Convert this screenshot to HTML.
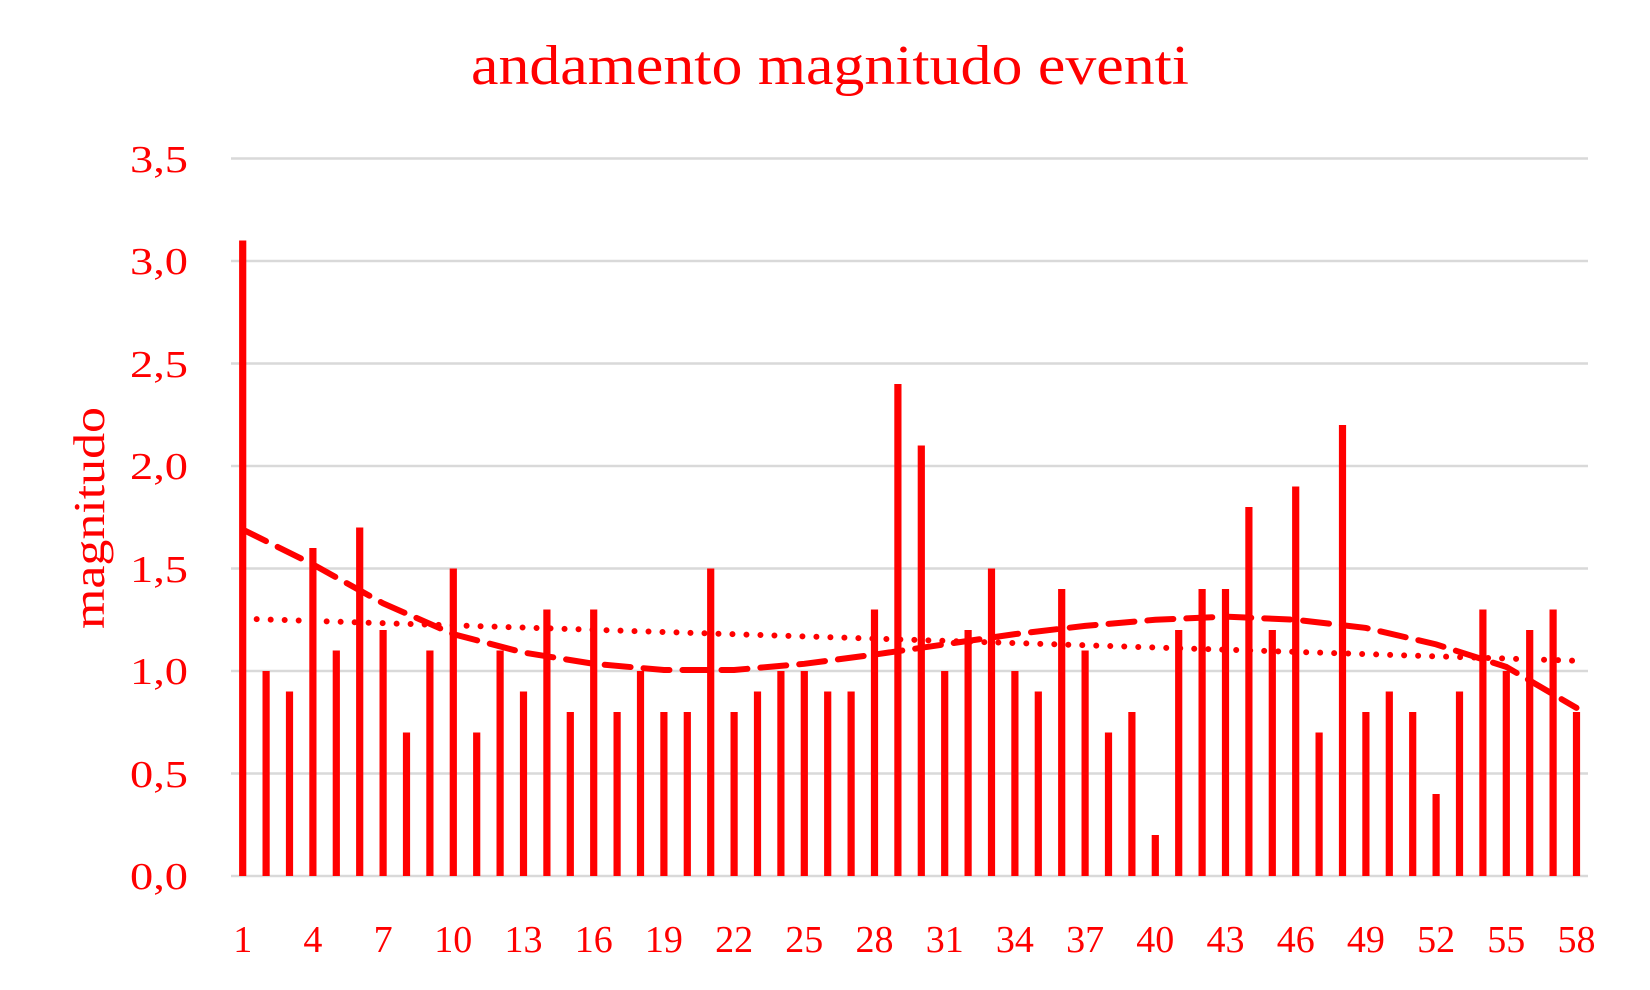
<!DOCTYPE html>
<html><head><meta charset="utf-8"><style>
html,body{margin:0;padding:0;background:#fff;}
svg{display:block;}
text{font-family:"Liberation Serif",serif;fill:#ff0000;}
</style></head><body>
<svg id="c" width="1650" height="990" viewBox="0 0 1650 990" xmlns="http://www.w3.org/2000/svg">
<rect width="1650" height="990" fill="#fff"/>
<text x="830" y="84" font-size="56" text-anchor="middle" textLength="718" lengthAdjust="spacingAndGlyphs">andamento magnitudo eventi</text>
<text transform="translate(104,518) rotate(-90)" font-size="44" text-anchor="middle" textLength="222" lengthAdjust="spacingAndGlyphs">magnitudo</text>
<g stroke="#d9d9d9" stroke-width="2.5">
<line x1="231" x2="1588" y1="158.5" y2="158.5"/>
<line x1="231" x2="1588" y1="261" y2="261"/>
<line x1="231" x2="1588" y1="363.5" y2="363.5"/>
<line x1="231" x2="1588" y1="466" y2="466"/>
<line x1="231" x2="1588" y1="568.5" y2="568.5"/>
<line x1="231" x2="1588" y1="671" y2="671"/>
<line x1="231" x2="1588" y1="773.5" y2="773.5"/>
<line x1="231" x2="1588" y1="876" y2="876"/>
</g>
<g font-size="38" text-anchor="end">
<text x="188" y="172" textLength="58" lengthAdjust="spacingAndGlyphs">3,5</text>
<text x="188" y="274" textLength="58" lengthAdjust="spacingAndGlyphs">3,0</text>
<text x="188" y="377" textLength="58" lengthAdjust="spacingAndGlyphs">2,5</text>
<text x="188" y="479" textLength="58" lengthAdjust="spacingAndGlyphs">2,0</text>
<text x="188" y="582" textLength="58" lengthAdjust="spacingAndGlyphs">1,5</text>
<text x="188" y="684" textLength="58" lengthAdjust="spacingAndGlyphs">1,0</text>
<text x="188" y="787" textLength="58" lengthAdjust="spacingAndGlyphs">0,5</text>
<text x="188" y="889" textLength="58" lengthAdjust="spacingAndGlyphs">0,0</text>
</g>
<g font-size="38" text-anchor="middle">
<text x="242.7" y="952">1</text>
<text x="312.9" y="952">4</text>
<text x="383.1" y="952">7</text>
<text x="453.3" y="952">10</text>
<text x="523.5" y="952">13</text>
<text x="593.7" y="952">16</text>
<text x="663.9" y="952">19</text>
<text x="734.1" y="952">22</text>
<text x="804.3" y="952">25</text>
<text x="874.5" y="952">28</text>
<text x="944.7" y="952">31</text>
<text x="1014.9" y="952">34</text>
<text x="1085.1" y="952">37</text>
<text x="1155.3" y="952">40</text>
<text x="1225.5" y="952">43</text>
<text x="1295.7" y="952">46</text>
<text x="1365.9" y="952">49</text>
<text x="1436.1" y="952">52</text>
<text x="1506.3" y="952">55</text>
<text x="1576.5" y="952">58</text>
</g>
<g id="bars" fill="#ff0000"></g>
<polyline id="dash" fill="none" stroke="#ff0000" stroke-width="6" stroke-dasharray="26,13" stroke-linecap="round"/>
<line id="dot" stroke="#ff0000" stroke-width="6" stroke-dasharray="0,14" stroke-linecap="round"/>
</svg>
<script>
var v=[3.1,1.0,0.9,1.6,1.1,1.7,1.2,0.7,1.1,1.5,0.7,1.1,0.9,1.3,0.8,1.3,0.8,1.0,0.8,0.8,1.5,0.8,0.9,1.0,1.0,0.9,0.9,1.3,2.4,2.1,1.0,1.2,1.5,1.0,0.9,1.4,1.1,0.7,0.8,0.2,1.2,1.4,1.4,1.8,1.2,1.9,0.7,2.2,0.8,0.9,0.8,0.4,0.9,1.3,1.0,1.2,1.3,0.8];
var ns="http://www.w3.org/2000/svg",g=document.getElementById('bars');
function X(i){return 231+23.4*(i-0.5);}
function Y(val){return 876-205*val;}
v.forEach(function(val,k){var r=document.createElementNS(ns,'rect');var x=X(k+1);
r.setAttribute('x',x-3.6);r.setAttribute('width',7.2);r.setAttribute('y',Y(val));r.setAttribute('height',205*val);g.appendChild(r);});
var t=[[1,1.69],[4,1.52],[7,1.33],[10,1.18],[13,1.09],[16,1.035],[19,1.005],[22,1.005],[25,1.035],[28,1.08],[31,1.13],[34,1.18],[37,1.22],[40,1.25],[43,1.265],[46,1.25],[49,1.21],[52,1.13],[55,1.02],[58,0.82]];
document.getElementById('dash').setAttribute('points',t.map(function(p){return X(p[0])+','+Y(p[1]);}).join(' '));
var d=document.getElementById('dot');d.setAttribute('x1',X(1));d.setAttribute('x2',X(58));d.setAttribute('y1',Y(1.255));d.setAttribute('y2',Y(1.05));
</script>
</body></html>
